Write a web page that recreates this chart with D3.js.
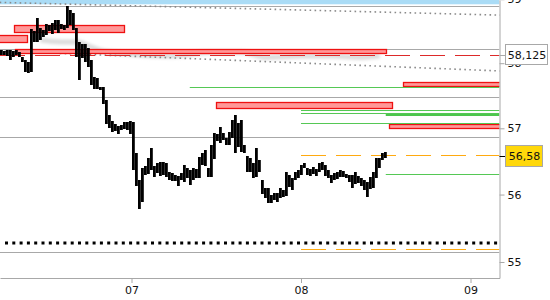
<!DOCTYPE html>
<html><head><meta charset="utf-8">
<script src="https://cdn.jsdelivr.net/npm/d3@7"></script>
<style>body{margin:0;background:#fff;} svg{display:block;font-family:"DejaVu Sans",sans-serif;}</style>
</head><body><svg id="c" width="550" height="300"></svg>
<script>
// ---------- data ----------
const barStart = "2024-01-06 05:35";
const barStepMin = 25.5;
const barHigh = [58.20,58.19,58.20,58.20,58.19,58.20,58.17,58.09,58.05,58.02,
 58.53,58.50,58.70,58.55,58.51,58.61,58.59,58.62,58.67,58.67,
 58.61,58.59,58.90,58.83,58.79,58.55,58.33,58.30,58.30,58.23,
 58.05,57.78,57.77,57.63,57.63,57.43,57.20,57.11,57.07,57.04,
 57.05,57.10,57.10,57.11,57.10,56.62,56.22,56.40,56.43,56.55,
 56.70,56.43,56.47,56.49,56.49,56.47,56.34,56.32,56.29,56.28,
 56.32,56.44,56.40,56.37,56.40,56.38,56.56,56.62,56.67,56.40,
 56.75,56.93,56.91,57.02,56.93,56.85,56.94,57.13,57.20,57.08,
 57.13,56.75,56.58,56.55,56.47,56.70,56.52,56.22,56.10,56.10,
 55.99,56.02,56.02,56.10,56.07,56.34,56.29,56.25,56.34,56.37,
 56.44,56.47,56.40,56.38,56.41,56.38,56.47,56.49,56.44,56.37,
 56.29,56.32,56.34,56.37,56.35,56.31,56.29,56.29,56.34,56.28,
 56.25,56.22,56.19,56.26,56.34,56.55,56.55,56.62,56.64];
const barLow = [58.13,58.13,58.11,58.05,58.09,58.13,58.09,58.02,57.86,57.85,
 57.86,58.33,58.33,58.36,58.41,58.44,58.50,58.45,58.51,58.47,
 58.53,58.51,58.55,58.59,58.51,58.09,57.74,58.08,58.02,57.94,
 57.66,57.60,57.60,57.58,57.37,57.07,57.00,56.94,56.96,56.91,
 56.97,56.99,56.97,56.91,56.37,56.13,55.78,55.89,56.29,56.31,
 56.37,56.26,56.32,56.28,56.29,56.26,56.22,56.20,56.20,56.13,
 56.22,56.19,56.25,56.14,56.22,56.25,56.25,56.44,56.43,56.26,
 56.26,56.54,56.81,56.78,56.82,56.75,56.75,56.85,56.62,56.72,
 56.64,56.62,56.34,56.34,56.25,56.26,56.34,56.01,55.95,55.87,
 55.87,55.92,55.89,55.95,55.96,55.98,56.11,56.07,56.22,56.25,
 56.29,56.40,56.29,56.28,56.31,56.28,56.34,56.37,56.28,56.25,
 56.17,56.22,56.23,56.26,56.26,56.25,56.19,56.10,56.16,56.17,
 56.13,56.07,55.96,56.08,56.10,56.25,56.40,56.52,56.55];

const dayTicks = ["2024-01-07 00:00","2024-01-08 00:00","2024-01-09 00:00"];
const priceTicks = [55,56,57,58,59];

const grayLevels = [58.90,58.22,57.48,56.87,55.14];
const blueZone = [59.30,58.92];

const zoneStart  = ["2024-01-06 04:00","2024-01-06 07:20","2024-01-06 07:30","2024-01-07 12:00","2024-01-08 14:30","2024-01-08 12:30"];
const zoneEnd    = ["2024-01-06 09:10","2024-01-06 23:00","2024-01-08 12:00","2024-01-08 12:55","2024-01-09 08:00","2024-01-09 08:00"];
const zoneTop    = [58.44,58.60,58.22,57.40,57.71,57.07];
const zoneBottom = [58.33,58.49,58.16,57.31,57.65,57.005];

const greenPrice = [57.63,57.28,57.233,57.08,56.31];
const greenStart = ["2024-01-07 08:15","2024-01-08 00:00","2024-01-08 00:00","2024-01-08 00:00","2024-01-08 12:00"];
const greenThickPrice = 57.22, greenThickStart = "2024-01-08 12:00";

const orangePrice = [56.60,55.19];
const orangeStart = "2024-01-08 00:00";
const blackDotPrice = 55.28;
const redDashPrice = 58.125;

const trendTimes = ["2024-01-06 05:20","2024-01-09 04:10"];
const trendUpper = [58.95,58.75];
const trendLower = [58.19,57.88];

const shadowIdx   = [13,20,25,30,33,43,56,70,80,88,100,110,120,126];
const shadowPrice = [58.36,58.33,58.33,58.25,58.20,58.14,58.11,58.17,58.17,58.09,58.11,58.11,58.09,58.11];

const lastLabel = "58,125", lastPriceLabel = "56,58", lastPrice = 56.58;

// ---------- chart ----------
const parse = d3.timeParse("%Y-%m-%d %H:%M");
const W = 499.5, H = 278;
const svg = d3.select("#c");

const x0 = d3.scaleTime().domain([parse(dayTicks[0]), parse(dayTicks[2])]).range([131.5, 470.5]);
const x = d3.scaleTime().domain([x0.invert(0), x0.invert(W)]).range([0, W]);
const y0 = d3.scaleLog().domain([55,57]).range([262,128.3]);
const y = d3.scaleLog().domain([y0.invert(H), y0.invert(0)]).range([H, 0]);

const t0 = parse(barStart);
const barTime = i => new Date(t0.getTime() + i*barStepMin*60000);
const yy = p => Math.round(y(p)) + 0.5;

svg.append("defs").html(`
  <clipPath id="clip"><rect x="0" y="0" width="${W}" height="${H}"/></clipPath>
  <filter id="blur" x="-10%" y="-200%" width="120%" height="500%"><feGaussianBlur stdDeviation="1.8"/></filter>`);
const g = svg.append("g").attr("clip-path","url(#clip)");

// blue zone
g.append("rect").attr("x",0).attr("width",W)
  .attr("y", y(blueZone[0])).attr("height", y(blueZone[1]) - y(blueZone[0]))
  .attr("fill","#aadcf6");

// gray levels
g.selectAll(".gl").data(grayLevels).join("line")
  .attr("x1",0).attr("x2",W).attr("y1",d=>yy(d)).attr("y2",d=>yy(d))
  .attr("stroke","#a8a8a8").attr("stroke-width",1);

// blurred shadow line
g.append("path")
  .attr("d", d3.line().curve(d3.curveMonotoneX)(shadowIdx.map((k,i)=>[x(barTime(k)), y(shadowPrice[i])])))
  .attr("fill","none").attr("stroke","#dcdcdc").attr("stroke-width",5).attr("filter","url(#blur)");

// gray dotted trend lines
[trendUpper, trendLower].forEach(tl => {
  g.append("line")
    .attr("x1", x(parse(trendTimes[0]))).attr("y1", y(tl[0]))
    .attr("x2", x(parse(trendTimes[1]))).attr("y2", y(tl[1]))
    .attr("stroke","#8a8a8a").attr("stroke-width",1.6).attr("stroke-dasharray","1.6,3.4");
});

// red zones
g.selectAll(".rz").data(zoneTop).join("rect")
  .attr("x",(d,i)=>Math.round(x(parse(zoneStart[i])))+0.5)
  .attr("width",(d,i)=>Math.round(x(parse(zoneEnd[i]))) - Math.round(x(parse(zoneStart[i]))))
  .attr("y",(d,i)=>Math.round(y(zoneTop[i]))+0.5)
  .attr("height",(d,i)=>Math.max(3, Math.round(y(zoneBottom[i])) - Math.round(y(zoneTop[i]))))
  .attr("fill","#ff9898").attr("stroke","#ee1111").attr("stroke-width",1.3);

// red dashed
g.append("line").attr("x1",0).attr("x2",W).attr("y1",yy(redDashPrice)).attr("y2",yy(redDashPrice))
  .attr("stroke","#dd2a2a").attr("stroke-width",1).attr("stroke-dasharray","25,10");

// green lines
g.selectAll(".gr").data(greenPrice).join("line")
  .attr("x1",(d,i)=>x(parse(greenStart[i]))).attr("x2",W)
  .attr("y1",d=>yy(d)).attr("y2",d=>yy(d))
  .attr("stroke","#55c855").attr("stroke-width",1);
g.append("line").attr("x1",x(parse(greenThickStart))).attr("x2",W)
  .attr("y1",Math.round(y(greenThickPrice))+1).attr("y2",Math.round(y(greenThickPrice))+1)
  .attr("stroke","#4cc64c").attr("stroke-width",2);

// orange dashed
g.selectAll(".or").data(orangePrice).join("line")
  .attr("x1",x(parse(orangeStart))).attr("x2",W)
  .attr("y1",d=>yy(d)).attr("y2",d=>yy(d))
  .attr("stroke","#ffaa10").attr("stroke-width",1.2).attr("stroke-dasharray","25,10");

// black dotted
g.append("line").attr("x1",5).attr("x2",W).attr("y1",Math.round(y(blackDotPrice))).attr("y2",Math.round(y(blackDotPrice)))
  .attr("stroke","#000").attr("stroke-width",3).attr("stroke-dasharray","3,4.3");

// bars
g.selectAll(".bar").data(barHigh).join("rect")
  .attr("x",(d,i)=>Math.round(x(barTime(i))-1.4))
  .attr("width",2.8)
  .attr("y",(d,i)=>Math.round(y(barHigh[i])))
  .attr("height",(d,i)=>Math.max(2, Math.round(y(barLow[i])) - Math.round(y(barHigh[i]))))
  .attr("fill","#000");

// axes
const xAxis = d3.axisBottom(x).tickValues(dayTicks.map(parse)).tickFormat(d3.timeFormat("%d")).tickSize(5).tickSizeOuter(0);
const ax = svg.append("g").attr("transform",`translate(0,${H})`).call(xAxis);
const yAxis = d3.axisRight(y).tickValues(priceTicks).tickFormat(d3.format("d")).tickSize(5).tickSizeOuter(0);
const ay = svg.append("g").attr("transform",`translate(${W},0)`).call(yAxis);
[ax, ay].forEach(a => {
  a.select(".domain").attr("stroke","#a8a8a8");
  a.selectAll(".tick line").attr("stroke","#a8a8a8");
  a.selectAll("text").attr("fill","#111").attr("font-size",11).attr("font-family","DejaVu Sans, sans-serif");
});

// price labels
function priceLabel(p, txt, fill, tickColor, x1, x2, y1, y2) {
  svg.append("line").attr("x1",W).attr("x2",W+6).attr("y1",yy(p)).attr("y2",yy(p)).attr("stroke",tickColor);
  svg.append("rect").attr("x",x1+0.5).attr("y",y1+0.5).attr("width",x2-x1).attr("height",y2-y1)
    .attr("fill",fill).attr("stroke","#a8a8a8");
  svg.append("text").attr("x",(x1+x2)/2+1).attr("y",(y1+y2)/2+1).attr("dy","0.35em").attr("text-anchor","middle")
    .attr("font-size",11).attr("fill","#111").text(txt);
}
priceLabel(redDashPrice, lastLabel, "#fff", "#a8a8a8", 505, 547, 44, 64);
priceLabel(lastPrice, lastPriceLabel, "#ffd80a", "#000", 505, 542, 145, 166);
</script></body></html>
